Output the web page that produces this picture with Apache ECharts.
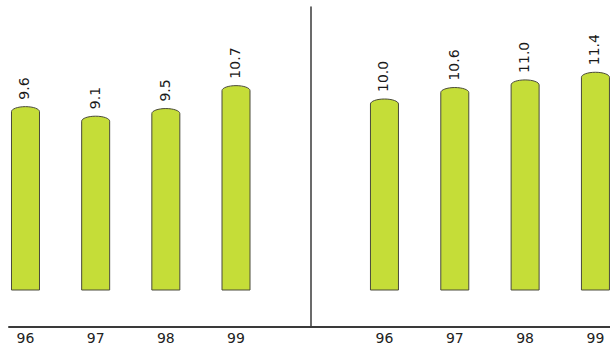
<!DOCTYPE html>
<html>
<head>
<meta charset="utf-8">
<script src="https://cdn.jsdelivr.net/npm/echarts@6/dist/echarts.min.js"></script>
<style>
html,body{margin:0;padding:0;background:#fff;}
#chart{width:610px;height:347px;}
</style>
</head>
<body>
<div id="chart"></div>
<script>
const categories = ['96', '97', '98', '99'];
const leftValues = [9.6, 9.1, 9.5, 10.7];
const rightValues = [10.0, 10.6, 11.0, 11.4];

const FONT = 'DejaVu Sans';
const BAR_FILL = '#c5dd38';
const BAR_STROKE = '#4a4a3a';
const AXIS_COLOR = '#3a3a3a';

function renderBar(params, api) {
  const value = api.value(1);
  const top = api.coord([api.value(0), value]);
  const base = api.coord([api.value(0), 0]);
  const w = 28, rx = w / 2, ry = 5, k = 0.5523;
  const cx = top[0], t = top[1], b = base[1];
  const L = cx - rx, R = cx + rx;
  const d = 'M' + L + ' ' + b +
    ' L' + L + ' ' + (t + ry) +
    ' C' + L + ' ' + (t + ry - k * ry) + ' ' + (cx - k * rx) + ' ' + t + ' ' + cx + ' ' + t +
    ' C' + (cx + k * rx) + ' ' + t + ' ' + R + ' ' + (t + ry - k * ry) + ' ' + R + ' ' + (t + ry) +
    ' L' + R + ' ' + b + ' Z';
  return {
    type: 'group',
    children: [
      {
        type: 'path',
        shape: { pathData: d },
        style: { fill: BAR_FILL, stroke: BAR_STROKE, lineWidth: 1 }
      },
      {
        type: 'text',
        x: cx - 1, y: t - 7,
        rotation: Math.PI / 2,
        style: {
          text: value.toFixed(1), align: 'left', verticalAlign: 'middle',
          font: '14px "' + FONT + '"', fill: '#1a1a1a'
        }
      }
    ]
  };
}

function barGrid(left, width) {
  return { left: left, width: width, top: 22.6, bottom: 57, outerBoundsMode: 'none', containLabel: false };
}
function catAxis(gridIndex) {
  return {
    type: 'category', gridIndex: gridIndex, data: categories,
    offset: 37,
    axisLine: { show: false }, axisTick: { show: false },
    axisLabel: { margin: 4, fontFamily: FONT, fontSize: 14, color: '#222' }
  };
}
function valAxis(gridIndex) {
  return { type: 'value', gridIndex: gridIndex, min: 0, max: 14, show: false };
}
function customSeries(idx, values) {
  return {
    type: 'custom', xAxisIndex: idx, yAxisIndex: idx, silent: true,
    renderItem: renderBar,
    data: values.map((v, i) => [i, v]),
    z: 3
  };
}

const chart = echarts.init(document.getElementById('chart'), null, { renderer: 'svg' });
chart.setOption({
  animation: false,
  grid: [
    barGrid(-9.6, 280.7),
    barGrid(349.3, 281.3),
    { left: 9, width: 301.5, top: 7, bottom: 20, outerBoundsMode: 'none', containLabel: false },
    { left: 310.5, right: 0, top: 7, bottom: 20, outerBoundsMode: 'none', containLabel: false }
  ],
  xAxis: [
    catAxis(0),
    catAxis(1),
    { type: 'value', gridIndex: 2, axisLine: { show: true, onZero: false, lineStyle: { color: AXIS_COLOR, width: 2 } }, axisTick: { show: false }, axisLabel: { show: false }, splitLine: { show: false } },
    { type: 'value', gridIndex: 3, axisLine: { show: true, onZero: false, lineStyle: { color: AXIS_COLOR, width: 2 } }, axisTick: { show: false }, axisLabel: { show: false }, splitLine: { show: false } }
  ],
  yAxis: [
    valAxis(0),
    valAxis(1),
    { type: 'value', gridIndex: 2, position: 'right', axisLine: { show: true, onZero: false, lineStyle: { color: AXIS_COLOR, width: 1.5 } }, axisTick: { show: false }, axisLabel: { show: false }, splitLine: { show: false } },
    { type: 'value', gridIndex: 3, show: false }
  ],
  series: [
    customSeries(0, leftValues),
    customSeries(1, rightValues)
  ]
});
</script>
</body>
</html>
